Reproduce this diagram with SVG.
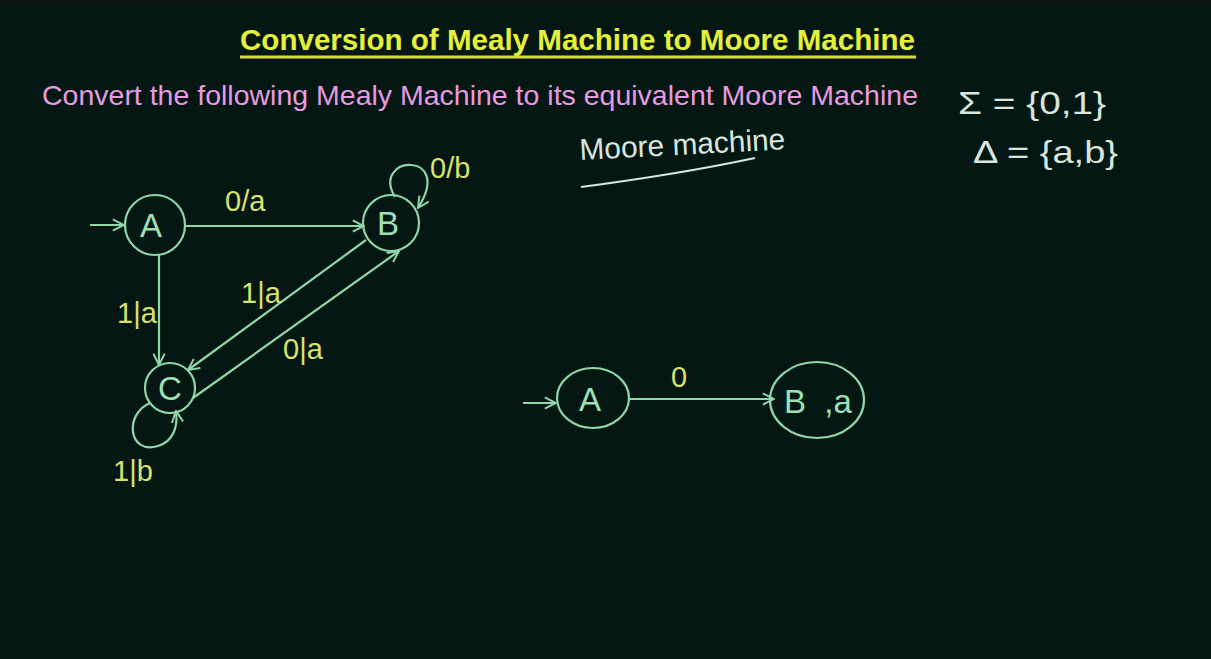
<svg xmlns="http://www.w3.org/2000/svg" width="1211" height="659" viewBox="0 0 1211 659">
<defs>
<style>
.node{fill:none;stroke:#8fd6a8;stroke-width:2.2}
.edge{fill:none;stroke:#8fd6a8;stroke-width:2.2}
.nl{font-family:"Liberation Sans",Arial,sans-serif;font-size:33px;fill:#9ee0b4;text-anchor:middle}
.lab{font-family:"Liberation Sans",Arial,sans-serif;font-size:29px;fill:#d9e26e}
.hand{font-family:"Liberation Sans",Arial,sans-serif;fill:#d8e6de}
</style>
<marker id="ah" viewBox="0 0 10 10" refX="9" refY="5" markerWidth="14" markerHeight="14" markerUnits="userSpaceOnUse" orient="auto">
<path d="M1,1 L9,5 L1,9" fill="none" stroke="#8fd6a8" stroke-width="1.4"/>
</marker>
</defs>
<rect width="1211" height="659" fill="#041713"/>
<rect width="1211" height="3" fill="#101214"/>

<g id="title">
<text x="240" y="50" font-family="'Liberation Sans',Arial,sans-serif" font-weight="bold" font-size="29" fill="#e4f03a" textLength="675" lengthAdjust="spacingAndGlyphs">Conversion of Mealy Machine to Moore Machine</text>
<line x1="240" y1="57" x2="916" y2="57" stroke="#d6df3a" stroke-width="3"/>
<text x="42" y="105" font-family="'Liberation Sans',Arial,sans-serif" font-size="28" fill="#e79be0" textLength="876" lengthAdjust="spacingAndGlyphs">Convert the following Mealy Machine to its equivalent Moore Machine</text>
</g>

<g id="alphabets">
<text class="hand" x="958" y="114" font-size="32" textLength="148" lengthAdjust="spacingAndGlyphs">Σ = {0,1}</text>
<text class="hand" x="973" y="163" font-size="32" textLength="145" lengthAdjust="spacingAndGlyphs">Δ = {a,b}</text>
</g>

<g id="moore-heading">
<text class="hand" x="580" y="160" font-size="30" transform="rotate(-3 580 160)" textLength="206" lengthAdjust="spacingAndGlyphs">Moore machine</text>
<path d="M581,187 Q680,174 755,158" fill="none" stroke="#d8e6de" stroke-width="2.2"/>
</g>

<g id="connectors">
<path class="edge" d="M90,225 L124,225" marker-end="url(#ah)"/>
<path class="edge" d="M186,226 L364,226" marker-end="url(#ah)"/>
<path class="edge" d="M159,254 L159,365" marker-end="url(#ah)"/>
<path class="edge" d="M366,240 L188,370" marker-end="url(#ah)"/>
<path class="edge" d="M193,398 L399,251" marker-end="url(#ah)"/>
<path class="edge" d="M395,197 C370,155 455,150 418,208" marker-end="url(#ah)"/>
<path class="edge" d="M150,403 C124,414 128,455 158,446 C174,441 178,426 176,411" marker-end="url(#ah)"/>
<path class="edge" d="M523,403 L556,403" marker-end="url(#ah)"/>
<path class="edge" d="M629,399 L774,399" marker-end="url(#ah)"/>
</g>

<g id="edge-labels">
<text class="lab" x="225" y="211">0/a</text>
<text class="lab" x="430" y="178">0/b</text>
<text class="lab" x="117" y="323" font-size="26">1|a</text>
<text class="lab" x="241" y="303" font-size="26">1|a</text>
<text class="lab" x="283" y="359">0|a</text>
<text class="lab" x="113" y="481">1|b</text>
<text class="lab" x="671" y="387" font-size="26">0</text>
</g>

<g id="mealy-A">
<circle class="node" cx="155" cy="225" r="30"/>
<text class="nl" x="151" y="237">A</text>
</g>
<g id="mealy-B">
<circle class="node" cx="391" cy="223" r="28"/>
<text class="nl" x="388" y="235">B</text>
</g>
<g id="mealy-C">
<circle class="node" cx="170" cy="388" r="25"/>
<text class="nl" x="170" y="400">C</text>
</g>

<g id="moore-A">
<ellipse class="node" cx="593" cy="398" rx="36" ry="30"/>
<text class="nl" x="590" y="411">A</text>
</g>
<g id="moore-B">
<ellipse class="node" cx="817" cy="400" rx="47" ry="38"/>
<text class="nl" x="795" y="413">B</text>
<text class="nl" x="838" y="413">,a</text>
</g>
</svg>
